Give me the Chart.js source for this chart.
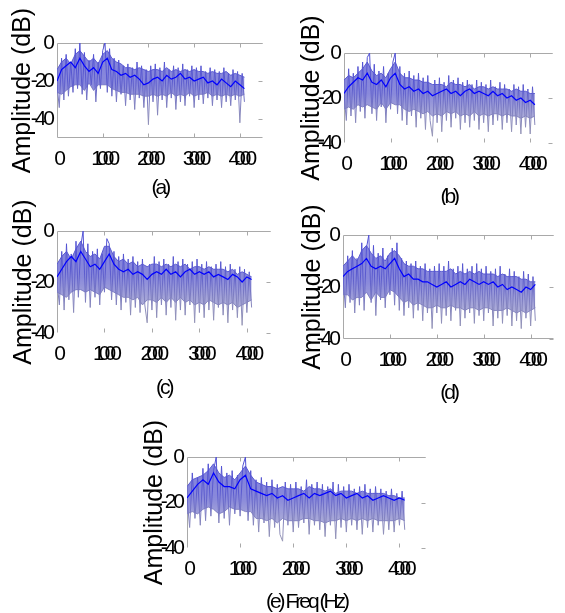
<!DOCTYPE html>
<html>
<head>
<meta charset="utf-8">
<script src="https://cdn.jsdelivr.net/npm/chart.js@4.4.1/dist/chart.umd.min.js"></script>
<style>
  html, body { margin: 0; padding: 0; background: #fff; }
  #fig { position: relative; width: 565px; height: 613px; overflow: hidden; }
  #fig canvas { position: absolute; }
</style>
</head>
<body>
<div id="fig"></div>
<script>
// frequency bins (Hz) for the dense trace and for the 100 Hz traces
const freqBand = Array.from({ length: 83 }, (_, i) => i * 50);
const freqMean = Array.from({ length: 42 }, (_, i) => i * 100);

const xTicks = [0, 1000, 2000, 3000, 4000];
const yTicks = [0, -20, -40];
const yTitle = "Amplitude (dB)";
const captions = ["(a)", "(b)", "(c)", "(d)", "(e) Freq (Hz)"];
const yMins = [-50, -40, -40, -40, -40];

// dense spectrum (dB), one value every 50 Hz
const bandA = [
  -22, -34, -8, -30, -6, -28, -10, -26, -3, -24,
  0, -27, -5, -30, -9, -22, -6, -31, -10, -24,
  -4, 0, -26, -3, -28, -8, -31, -9, -27, -12,
  -33, -11, -30, -13, -35, -10, -29, -12, -34, -14,
  -43, -12, -31, -11, -38, -13, -30, -10, -34, -14,
  -29, -12, -35, -13, -31, -11, -33, -14, -28, -12,
  -34, -13, -30, -12, -32, -15, -29, -13, -33, -14,
  -30, -15, -34, -13, -31, -16, -33, -14, -30, -15,
  -42, -16, -31
];
const bandB = [
  -18, -30, -7, -28, -9, -31, -6, -26, -4, -29,
  -2, 0, -27, -5, -30, -8, -24, -6, -31, -9,
  -25, -4, 0, -27, -6, -30, -9, -32, -8, -28,
  -10, -33, -9, -29, -11, -34, -10, -30, -37, -12,
  -31, -11, -35, -13, -30, -10, -33, -12, -29, -11,
  -34, -13, -31, -12, -33, -14, -30, -12, -34, -13,
  -31, -14, -35, -12, -32, -15, -30, -13, -34, -14,
  -31, -16, -35, -14, -32, -15, -36, -14, -33, -16,
  -36, -15, -32
];
const bandC = [
  -20, -29, -8, -31, -5, -27, -9, -32, -4, -26,
  -6, 0, -28, -5, -30, -8, -26, -7, -29, -9,
  -24, -3, -5, -27, -8, -29, -10, -31, -9, -28,
  -11, -33, -10, -30, -12, -32, -11, -29, -36, -13,
  -31, -10, -34, -12, -29, -11, -33, -13, -30, -10,
  -35, -12, -31, -11, -33, -13, -29, -12, -36, -11,
  -32, -13, -34, -12, -31, -14, -35, -13, -30, -12,
  -33, -14, -36, -13, -31, -15, -34, -14, -37, -15,
  -32, -16, -30
];
const bandD = [
  -16, -28, -8, -26, -6, -30, -9, -27, -3, -29,
  -5, 0, -26, -4, -31, -7, -25, -5, -28, -8,
  -23, -5, -27, -3, -29, -9, -31, -10, -28, -11,
  -32, -10, -29, -12, -33, -11, -30, -13, -36, -12,
  -30, -11, -34, -12, -31, -10, -33, -13, -29, -12,
  -35, -11, -32, -13, -30, -12, -34, -11, -31, -13,
  -33, -12, -30, -14, -35, -13, -32, -12, -34, -15,
  -31, -13, -35, -14, -33, -16, -36, -14, -32, -15,
  -35, -16, -33
];
const bandE = [
  -18, -31, -7, -27, -9, -30, -5, -28, -3, -26,
  -6, 0, -29, -4, -27, -7, -30, -6, -25, -8,
  -26, -4, 0, -28, -6, -30, -10, -33, -9, -29,
  -11, -35, -10, -31, -12, -34, -37, -11, -30, -12,
  -33, -11, -31, -13, -29, -10, -34, -12, -30, -11,
  -32, -12, -35, -13, -30, -11, -36, -12, -31, -13,
  -33, -12, -30, -14, -32, -13, -34, -12, -31, -14,
  -33, -13, -30, -14, -34, -15, -32, -14, -33, -16,
  -30, -15, -32
];

// smoothed spectrum (dB), one value every 100 Hz
const meanA = [-20, -14, -12, -10, -13, -8, -12, -15, -13, -16, -10, -8, -14, -15, -17, -16, -18, -17, -19, -22, -21,
  -19, -18, -20, -17, -19, -18, -16, -19, -18, -20, -19, -18, -21, -20, -22, -19, -21, -23, -20, -22, -24];
const meanB = [-18, -15, -13, -11, -12, -9, -13, -14, -12, -15, -11, -9, -14, -16, -15, -17, -16, -18, -17, -19, -18,
  -17, -16, -18, -17, -19, -17, -16, -18, -17, -18, -19, -17, -19, -18, -20, -19, -21, -20, -22, -21, -23];
const meanC = [-18, -15, -12, -10, -12, -8, -11, -14, -13, -15, -12, -9, -13, -15, -16, -15, -17, -16, -17, -19, -17,
  -16, -17, -15, -17, -16, -18, -16, -15, -17, -16, -17, -16, -18, -17, -18, -19, -17, -18, -20, -18, -19];
const meanD = [-16, -14, -13, -12, -11, -9, -12, -13, -12, -13, -11, -9, -13, -16, -15, -17, -17, -18, -18, -19, -20,
  -19, -18, -20, -19, -18, -19, -17, -18, -19, -18, -19, -18, -20, -19, -21, -20, -21, -22, -20, -21, -19];
const meanE = [-18, -15, -12, -10, -12, -7, -11, -13, -13, -14, -10, -8, -14, -15, -16, -17, -16, -18, -17, -19, -18,
  -17, -16, -18, -16, -17, -16, -15, -17, -16, -18, -17, -16, -18, -17, -19, -18, -17, -18, -19, -18, -19];

// upper and lower edge of the dense band (dB), every 100 Hz
const upperA = [-14, -10, -8, -11, -6, -4, -7, -10, -8, -11, -6, -4, -8, -10, -11, -13, -13, -14, -13, -14, -15,
  -14, -14, -15, -13, -15, -14, -15, -14, -15, -14, -15, -15, -16, -15, -16, -16, -15, -17, -16, -17, -18];
const lowerA = [-26, -27, -25, -23, -22, -22, -25, -21, -25, -22, -22, -22, -24, -25, -26, -26, -27, -27, -27, -28, -28,
  -27, -28, -27, -28, -26, -28, -27, -28, -26, -28, -27, -27, -26, -28, -27, -28, -27, -28, -27, -28, -27];
const upperB = [-12, -10, -11, -9, -7, -4, -8, -10, -9, -11, -7, -4, -9, -11, -11, -12, -12, -13, -13, -14, -14,
  -14, -15, -13, -14, -14, -15, -14, -16, -15, -15, -16, -15, -16, -16, -16, -17, -16, -17, -17, -18, -18];
const lowerB = [-25, -24, -25, -23, -24, -23, -24, -25, -22, -25, -22, -23, -23, -25, -26, -25, -26, -27, -26, -28, -27,
  -28, -26, -27, -26, -28, -27, -28, -26, -28, -27, -28, -27, -27, -28, -27, -28, -28, -29, -28, -29, -28];
const upperC = [-13, -10, -8, -11, -7, -4, -8, -10, -9, -11, -6, -6, -10, -12, -11, -13, -12, -14, -13, -14, -13,
  -13, -14, -13, -14, -13, -14, -13, -15, -14, -14, -15, -14, -15, -15, -15, -16, -15, -17, -16, -17, -18];
const lowerC = [-24, -25, -26, -24, -23, -23, -24, -23, -24, -25, -22, -23, -24, -25, -26, -26, -27, -26, -29, -27, -27,
  -28, -26, -28, -26, -28, -26, -28, -27, -29, -28, -29, -27, -28, -29, -28, -29, -28, -30, -29, -28, -27];
const upperD = [-12, -10, -8, -10, -6, -4, -7, -9, -8, -10, -7, -6, -8, -11, -12, -12, -13, -13, -14, -14, -14,
  -14, -14, -13, -15, -14, -15, -14, -15, -14, -15, -15, -15, -16, -15, -16, -16, -16, -17, -17, -18, -18];
const lowerD = [-23, -23, -25, -24, -24, -22, -25, -22, -24, -24, -21, -22, -24, -26, -25, -27, -26, -27, -28, -28, -27,
  -28, -28, -27, -28, -28, -29, -28, -28, -29, -28, -28, -29, -29, -29, -28, -29, -30, -29, -30, -29, -28];
const upperE = [-13, -10, -9, -8, -6, -3, -7, -9, -8, -10, -7, -4, -8, -11, -12, -13, -13, -14, -13, -14, -14,
  -14, -15, -13, -14, -14, -15, -14, -16, -15, -15, -15, -16, -15, -16, -16, -16, -16, -17, -17, -18, -18];
const lowerE = [-25, -24, -25, -23, -22, -23, -25, -24, -22, -23, -23, -24, -24, -27, -27, -28, -27, -29, -27, -28, -28,
  -28, -27, -27, -28, -28, -29, -28, -28, -27, -28, -27, -28, -27, -28, -27, -28, -28, -28, -28, -27, -28];

const bands = [bandA, bandB, bandC, bandD, bandE];
const means = [meanA, meanB, meanC, meanD, meanE];
const uppers = [upperA, upperB, upperC, upperD, upperE];
const lowers = [lowerA, lowerB, lowerC, lowerD, lowerE];

// canvas boxes and fixed axis sizes
const panels = [
  { left: 0,   top: 0,   w: 275, h: 205, yW: 57, xH: 67, pt: 43, pr: 7,  titleX: 23, capY: 188, bottomLine: true },
  { left: 282, top: 0,   w: 283, h: 205, yW: 62, xH: 62, pt: 53, pr: 4,  titleX: 30, capY: 197, bottomLine: false },
  { left: 0,   top: 185, w: 282, h: 220, yW: 57, xH: 72, pt: 46, pr: 7,  titleX: 24, capY: 203, bottomLine: false },
  { left: 282, top: 185, w: 283, h: 220, yW: 61, xH: 66, pt: 50, pr: 0,  titleX: 31, capY: 208, bottomLine: true },
  { left: 130, top: 395, w: 310, h: 218, yW: 57, xH: 65, pt: 62, pr: 14, titleX: 25, capY: 207, bottomLine: false },
];

const FONT = "'Liberation Sans', Arial, sans-serif";

// squeeze the tick labels like the original figure
function squeezeLabels(scale, spacing) {
  if (scale._squeezed) return;
  const orig = scale.drawLabels.bind(scale);
  scale.drawLabels = function (area) {
    const ctx = scale.ctx;
    ctx.save();
    ctx.letterSpacing = spacing;
    orig(area);
    ctx.restore();
  };
  scale._squeezed = true;
}

const figurePlugin = {
  id: "figure",
  beforeDatasetsDraw(chart, args, o) {
    const { ctx, chartArea: a, scales } = chart;
    const L = Math.round(a.left) + 0.5, R = Math.round(a.right) - 0.5;
    const T = Math.round(a.top) + 0.5, B = Math.round(a.bottom) - 0.5;
    ctx.save();
    ctx.strokeStyle = "#a9a9a9";
    ctx.lineWidth = 1;
    ctx.beginPath();
    ctx.moveTo(L, B);
    ctx.lineTo(L, T);
    ctx.lineTo(R, T);
    if (o.bottomLine) {
      ctx.moveTo(L, B);
      ctx.lineTo(R, B);
    }
    xTicks.slice(1).forEach(v => {
      const px = Math.round(scales.x.getPixelForValue(v)) + 0.5;
      ctx.moveTo(px, B); ctx.lineTo(px, B - 4);
      ctx.moveTo(px, T); ctx.lineTo(px, T + 4);
    });
    yTicks.forEach(v => {
      const py = Math.round(scales.y.getPixelForValue(v)) + 0.5;
      ctx.moveTo(R, py); ctx.lineTo(R - 4, py);
    });
    ctx.stroke();
    ctx.restore();
  },
  afterDraw(chart, args, o) {
    const { ctx, chartArea: a } = chart;
    ctx.save();
    ctx.fillStyle = "#000";
    ctx.textAlign = "center";
    ctx.textBaseline = "middle";
    // caption under the panel
    ctx.letterSpacing = "-3px";
    ctx.font = "21px " + FONT;
    ctx.fillText(o.caption, (a.left + a.right) / 2, o.capY);
    // y axis title
    ctx.letterSpacing = "0px";
    ctx.font = "25px " + FONT;
    ctx.translate(o.titleX, (a.top + a.bottom) / 2);
    ctx.rotate(-Math.PI / 2);
    ctx.fillText(yTitle, 0, 0);
    ctx.restore();
  }
};

function gradient(context, stops) {
  const a = context.chart.chartArea;
  if (!a) return stops[0][1];
  const g = context.chart.ctx.createLinearGradient(0, a.top, 0, a.bottom);
  stops.forEach(s => g.addColorStop(s[0], s[1]));
  return g;
}
const lineStops = [[0, "#5050d6"], [0.4, "#5a5ace"], [0.65, "#8080c0"], [1, "#a0a0b4"]];
const fillStops = [[0, "rgba(90,90,214,0.78)"], [0.45, "rgba(96,96,206,0.74)"], [0.7, "rgba(124,124,196,0.66)"], [1, "rgba(150,150,186,0.6)"]];

const fig = document.getElementById("fig");

panels.forEach((p, k) => {
  const canvas = document.createElement("canvas");
  canvas.width = p.w;
  canvas.height = p.h;
  canvas.style.left = p.left + "px";
  canvas.style.top = p.top + "px";
  fig.appendChild(canvas);

  const tickFont = { family: FONT, size: 21, lineHeight: 1 };
  const line = { pointRadius: 0, tension: 0 };

  new Chart(canvas.getContext("2d"), {
    type: "line",
    data: {
      datasets: [
        {
          ...line,
          data: freqMean.map((f, i) => ({ x: f, y: means[k][i] })),
          borderColor: "#0000ff",
          borderWidth: 1.2,
        },
        {
          ...line,
          data: freqBand.map((f, i) => ({ x: f, y: bands[k][i] })),
          borderColor: c => gradient(c, lineStops),
          borderWidth: 1,
        },
        {
          ...line,
          data: freqMean.map((f, i) => ({ x: f, y: uppers[k][i] })),
          borderColor: "#5a5ad2",
          backgroundColor: c => gradient(c, fillStops),
          fill: "+1",
          borderWidth: 1,
        },
        {
          ...line,
          data: freqMean.map((f, i) => ({ x: f, y: lowers[k][i] })),
          borderColor: "#8c8cc0",
          borderWidth: 1,
        },
      ],
    },
    options: {
      responsive: false,
      animation: false,
      events: [],
      layout: { padding: { top: p.pt, right: p.pr, left: 0, bottom: 0 } },
      plugins: {
        legend: { display: false },
        tooltip: { enabled: false },
        filler: { propagate: false },
        figure: { caption: captions[k], capY: p.capY, titleX: p.titleX, bottomLine: p.bottomLine },
      },
      scales: {
        x: {
          type: "linear",
          min: 0,
          max: 4500,
          afterBuildTicks: s => { s.ticks = xTicks.map(v => ({ value: v })); squeezeLabels(s, "-6px"); },
          afterFit: s => { s.height = p.xH; },
          grid: { display: false, drawTicks: false },
          border: { display: false },
          ticks: { color: "#000", font: tickFont, padding: 11, maxRotation: 0, autoSkip: false, callback: v => String(v) },
        },
        y: {
          type: "linear",
          min: yMins[k],
          max: 0,
          afterBuildTicks: s => { s.ticks = yTicks.map(v => ({ value: v })); squeezeLabels(s, "-3px"); },
          afterFit: s => { s.width = p.yW; },
          grid: { display: false, drawTicks: false },
          border: { display: false },
          ticks: { color: "#000", font: tickFont, padding: 5, callback: v => String(v) },
        },
      },
    },
    plugins: [figurePlugin],
  });
});
</script>
</body>
</html>
